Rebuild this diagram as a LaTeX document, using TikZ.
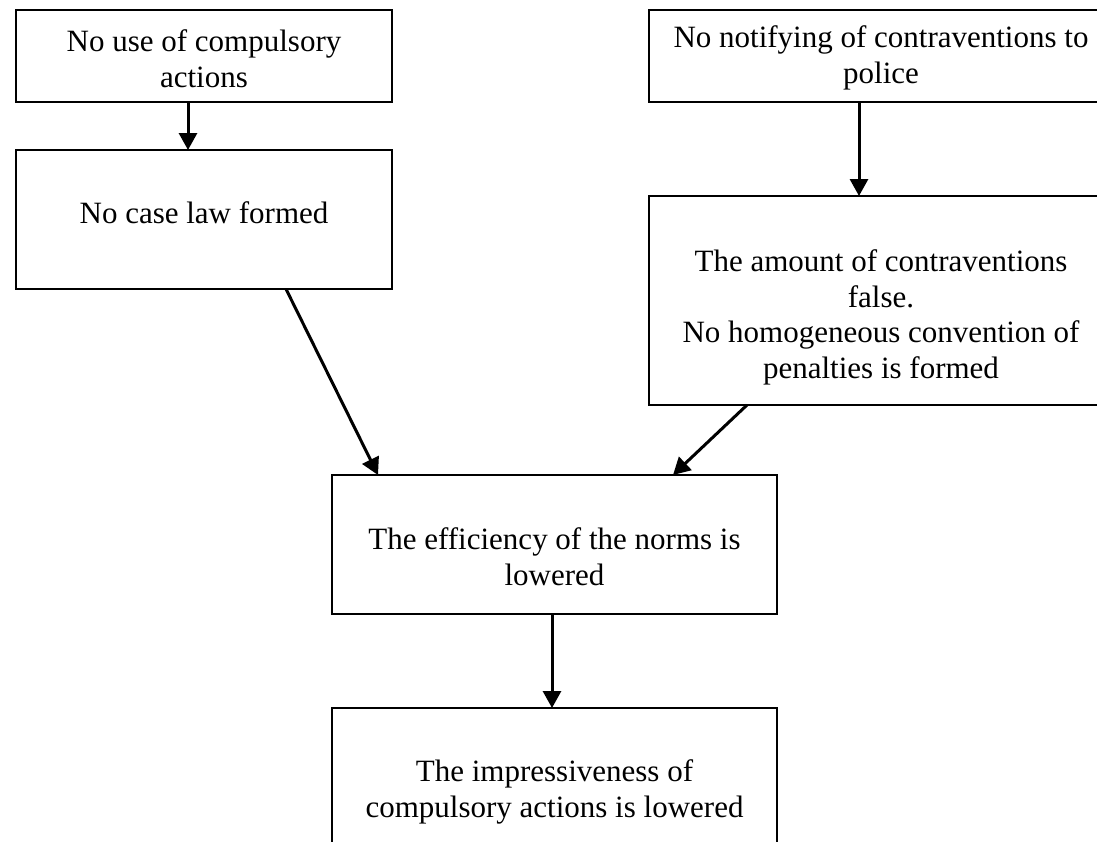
\documentclass[tikz,border=0pt]{standalone}
\usepackage{fontspec}
\setmainfont{Liberation Serif}
\usetikzlibrary{arrows.meta}
\begin{document}
\begin{tikzpicture}[x=1pt,y=-1pt,
  box/.style={draw=black,line width=1.2pt,inner sep=0pt,outer sep=0pt,rectangle},
  txt/.style={align=center,inner sep=0pt,anchor=base,font=\fontsize{31}{35.5}\selectfont},
  arr/.style={line width=3pt,-{Triangle[length=17pt,width=18pt]}}]
\useasboundingbox (0,0) rectangle (1097,841);
\clip (0,0) rectangle (1097,841);
\fill[white] (0,0) rectangle (1097,841);
% boxes
\node[box,minimum width=376pt,minimum height=92pt] (A) at (204,56) {};
\node[box,minimum width=376pt,minimum height=139pt] (B) at (204,219.5) {};
\node[box,minimum width=464pt,minimum height=92pt] (C) at (881,56) {};
\node[box,minimum width=464pt,minimum height=209pt] (D) at (881,300.5) {};
\node[box,minimum width=445pt,minimum height=139pt] (E) at (554.5,544.5) {};
\node[box,minimum width=445pt,minimum height=209pt] (F) at (554.5,812.5) {};
% texts (anchor = baseline of last line)
\node[txt] (At) at (204,87) {No use of compulsory\\actions};
\node[txt] (Bt) at (204,223) {No case law formed};
\node[txt] (Ct) at (881,83) {No notifying of contraventions to\\police};
\node[txt] (Dt) at (881,378) {The amount of contraventions\\false.\\No homogeneous convention of\\penalties is formed};
\node[txt] (Et) at (554.5,585) {The efficiency of the norms is\\lowered};
\node[txt] (Ft) at (554.5,817) {The impressiveness of\\compulsory actions is lowered};
% connectors
\draw[arr] ([xshift=-16pt]A.south) -- ([xshift=-16pt]B.north);
\draw[arr] ([xshift=-22pt]C.south) -- ([xshift=-22pt]D.north);
\draw[arr] ([xshift=82pt]B.south) -- ([xshift=-176.5pt]E.north);
\draw[arr] ([xshift=-134pt]D.south) -- ([xshift=118.5pt]E.north);
\draw[arr] ([xshift=-2.5pt]E.south) -- ([xshift=-2.5pt]F.north);
\end{tikzpicture}
\end{document}
